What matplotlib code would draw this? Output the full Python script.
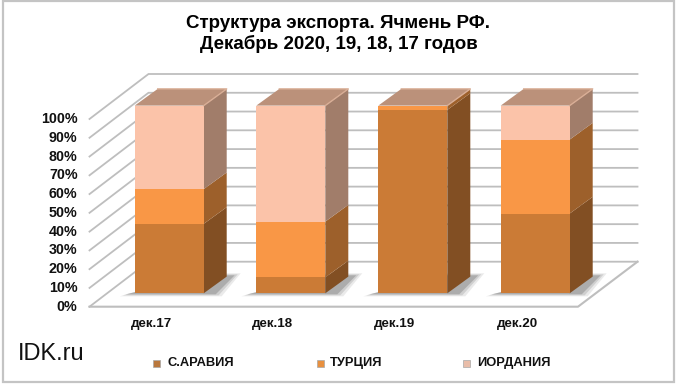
import matplotlib
matplotlib.use("Agg")
import matplotlib.pyplot as plt
from matplotlib.patches import Polygon, Rectangle

plt.rcParams["font.family"] = ["Liberation Sans", "DejaVu Sans"]

categories = ["дек.17", "дек.18", "дек.19", "дек.20"]
series_names = ["С.АРАВИЯ", "ТУРЦИЯ", "ИОРДАНИЯ"]
saudi = [37.0, 8.5, 97.7, 42.5]
turkey = [18.5, 29.7, 2.3, 39.4]
jordan = [44.5, 61.8, 0.0, 18.1]
y_ticks = [0, 10, 20, 30, 40, 50, 60, 70, 80, 90, 100]
title_lines = ["Структура экспорта. Ячмень РФ.", "Декабрь 2020, 19, 18, 17 годов"]

front_colors = ["#CB7B36", "#F99746", "#FBC3A9"]
side_colors = ["#824F23", "#9D602B", "#A17D6A"]
marker_colors = ["#B9773C", "#E8903F", "#E9BDA9"]
top_color = "#BB917A"
top_edge = "#D9AE96"
grid_color = "#BEBEBE"

# pixel geometry of the pseudo 3d box
PX_PER_PCT = 1.877
FLOOR_Y = 306.7
BAR_BASE_Y = 293.3
BAR_LEFTS = [134.7, 256.3, 378.3, 500.7]
BAR_W = 69.0
BAR_DX, BAR_DY = 23.0, -16.7


def bar_y(pct):
    return BAR_BASE_Y - pct * PX_PER_PCT


def draw_segment(ax, left, low, high, i):
    y0, y1 = bar_y(low), bar_y(high)
    right = left + BAR_W
    ax.add_patch(Polygon([(right, y0), (right + BAR_DX, y0 + BAR_DY),
                          (right + BAR_DX, y1 + BAR_DY), (right, y1)],
                         closed=True, fc=side_colors[i], ec="none", zorder=5))
    ax.add_patch(Rectangle((left, y1), BAR_W, y0 - y1, fc=front_colors[i], ec="none", zorder=6))


fig = plt.figure(figsize=(6.8, 3.85), dpi=100)
ax = fig.add_axes([0, 0, 1, 1])
ax.set_xlim(0, 680)
ax.set_ylim(385, 0)
ax.axis("off")

# outer frame
ax.add_patch(Rectangle((3, 1), 671, 380.5, fc="white", ec="#C4C4C4", lw=1.6, zorder=0))

# walls grid
for t in y_ticks:
    yf = FLOOR_Y - t * PX_PER_PCT
    yb = yf - 45
    xs = [89.5, 148.5, 637.5]
    ax.plot(xs, [yf, yb, yb], color=grid_color, lw=1.3, zorder=1, solid_joinstyle="miter")
    ax.text(77.5, yf, f"{t}%", ha="right", va="center", fontsize=10.3, fontweight="bold", color="#111111")

# floor front edge
ax.plot([89.5, 578, 637.5], [FLOOR_Y, FLOOR_Y, FLOOR_Y - 45], color=grid_color, lw=1.5, zorder=1)

for k, left in enumerate(BAR_LEFTS):
    # soft floor shadow
    for grow, alpha in [(6, 0.14), (3, 0.22), (0, 0.36)]:
        ax.add_patch(Polygon([(left - 9 - grow, BAR_BASE_Y + 1 + grow / 3),
                              (left + BAR_W + 12 + grow, BAR_BASE_Y + 1 + grow / 3),
                              (left + BAR_W + 31 + grow, BAR_BASE_Y - 18 - grow / 3),
                              (left + BAR_W, BAR_BASE_Y - 18 - grow / 3)],
                             closed=True, fc="#707070", ec="none", alpha=alpha, zorder=2))

    low = 0.0
    for i, vals in enumerate([saudi, turkey, jordan]):
        if vals[k] > 0:
            draw_segment(ax, left, low, low + vals[k], i)
            low += vals[k]
    ytop = bar_y(low)
    ax.add_patch(Polygon([(left, ytop), (left + BAR_W, ytop),
                          (left + BAR_W + BAR_DX, ytop + BAR_DY), (left + BAR_DX, ytop + BAR_DY)],
                         closed=True, fc=top_color, ec="none", zorder=7))
    # lighter bevel along the top face
    ax.plot([left + BAR_W, left + BAR_W + BAR_DX, left + BAR_DX],
            [ytop, ytop + BAR_DY, ytop + BAR_DY], color=top_edge, lw=1.0, zorder=8)
    ax.text(left + BAR_W / 2 - 18, 323.5, categories[k], ha="center", va="center",
            fontsize=9.6, fontweight="bold", color="#111111")

ax.text(338.5, 23, title_lines[0], ha="center", va="center", fontsize=13.5, fontweight="bold", color="black")
ax.text(338.5, 44, title_lines[1], ha="center", va="center", fontsize=13.5, fontweight="bold", color="black")

ax.text(18, 354, "IDK.ru", ha="left", va="center", fontsize=17, color="#111111")

legend_marks = [156, 320.7, 466]
legend_text = [167.5, 330, 477]
for i, name in enumerate(series_names):
    ax.add_patch(Rectangle((legend_marks[i] - 3.5, 359.5), 7, 7, fc=marker_colors[i],
                           ec="#A8A8A8", lw=0.5, zorder=3))
    ax.text(legend_text[i], 363.3, name, ha="left", va="center", fontsize=9.3, fontweight="bold", color="#111111")

fig.savefig("out.png", dpi=100)
